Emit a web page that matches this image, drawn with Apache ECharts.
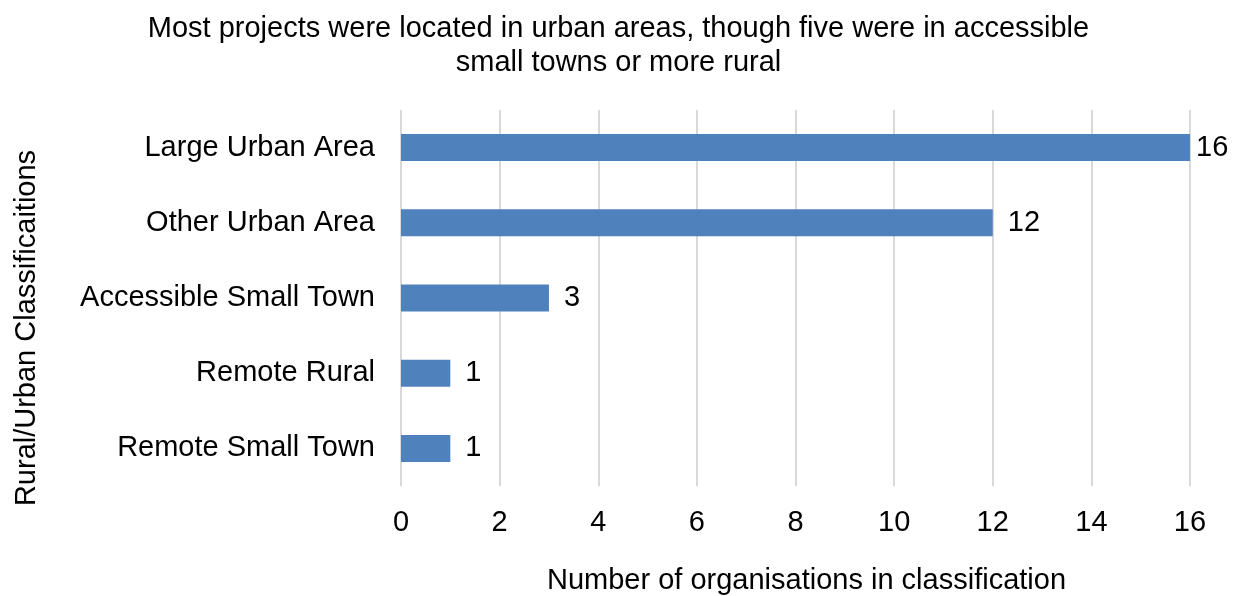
<!DOCTYPE html>
<html>
<head>
<meta charset="utf-8">
<script src="https://cdn.jsdelivr.net/npm/echarts@6/dist/echarts.min.js"></script>
<style>
  html, body { margin: 0; padding: 0; background: #fff; }
  #chart { width: 1237px; height: 596px; }
</style>
</head>
<body>
<div id="chart"></div>
<script>
// categories top to bottom
const categories = ['Large Urban Area', 'Other Urban Area', 'Accessible Small Town', 'Remote Rural', 'Remote Small Town'];
const counts = [16, 12, 3, 1, 1];
const xTicks = [0, 2, 4, 6, 8, 10, 12, 14, 16];

const font = 'Liberation Sans, Arial, sans-serif';
const xMax = xTicks[xTicks.length - 1];
const chart = echarts.init(document.getElementById('chart'));

chart.setOption({
  animation: false,
  title: {
    text: 'Most projects were located in urban areas, though five were in accessible\nsmall towns or more rural',
    left: 'center',
    top: 7,
    textStyle: { fontFamily: font, fontSize: 29, fontWeight: 'normal', color: '#000', lineHeight: 34 }
  },
  grid: { left: 401, right: 47, top: 110, bottom: 110, outerBoundsMode: 'none' },
  xAxis: {
    type: 'value',
    min: xTicks[0],
    max: xMax,
    interval: 2,
    name: 'Number of organisations in classification',
    nameLocation: 'middle',
    nameGap: 80,
    nameTextStyle: { fontFamily: font, fontSize: 29, color: '#000', padding: [0, 0, 0, 22] },
    axisLine: { show: false },
    axisTick: { show: false },
    axisLabel: { fontFamily: font, fontSize: 29, color: '#000', margin: 22 },
    splitLine: { lineStyle: { color: '#d9d9d9', width: 2 } }
  },
  yAxis: {
    type: 'category',
    data: categories,
    inverse: true,
    name: 'Rural/Urban Classificaitions',
    nameLocation: 'middle',
    nameGap: 360,
    nameTextStyle: { fontFamily: font, fontSize: 29, color: '#000', padding: [0, 60, 0, 0] },
    axisLine: { show: false },
    axisTick: { show: false },
    axisLabel: { fontFamily: font, fontSize: 29, color: '#000', margin: 26 }
  },
  series: [{
    type: 'bar',
    // the label of the bar reaching the axis end sits closer to it
    data: counts.map(v => v >= xMax ? { value: v, label: { distance: 6 } } : v),
    barWidth: 27,
    itemStyle: { color: '#4f81bd' },
    label: {
      show: true,
      position: 'right',
      distance: 15,
      fontFamily: font,
      fontSize: 29,
      color: '#000'
    }
  }]
});
</script>
</body>
</html>
